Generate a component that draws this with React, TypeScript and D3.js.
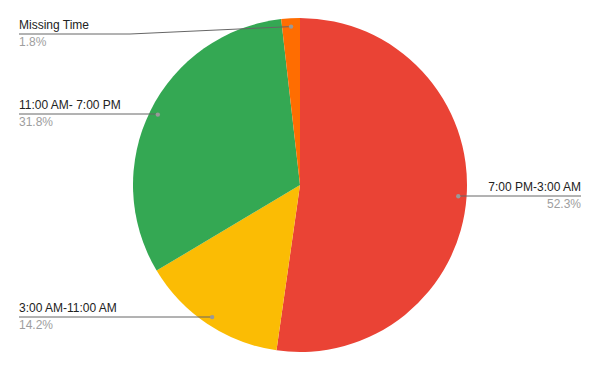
import React from "react";
import * as d3 from "d3";

const categories = ["7:00 PM-3:00 AM", "3:00 AM-11:00 AM", "11:00 AM- 7:00 PM", "Missing Time"];
const values = [52.3, 14.2, 31.8, 1.8];
const percentLabels = ["52.3%", "14.2%", "31.8%", "1.8%"];
const colors = ["#EA4335", "#FBBC04", "#34A853", "#FF6D01"];

const W = 600, H = 371;
const cx = 300, cy = 185, R = 167;
const dotR = R * 0.95;

// label layout: side, text x, line y
const labelLayout = [
  { side: "right", x: 581, y: 196 },
  { side: "left", x: 19, y: 317 },
  { side: "left", x: 19, y: 114 },
  { side: "left", x: 19, y: 34 },
];

export default function App() {
  const pie = d3.pie<number>().sort(null).value((d) => d).startAngle(0).endAngle(2 * Math.PI);
  const arcs = pie(values);
  const arc = d3.arc<d3.PieArcDatum<number>>().innerRadius(0).outerRadius(R);
  return (
    <svg width={W} height={H} style={{ position: "absolute", left: 0, top: 0 }} fontFamily="'Liberation Sans', Arial, sans-serif">
      <rect width={W} height={H} fill="#fff" />
      <g transform={`translate(${cx},${cy})`}>
        {arcs.map((a, i) => (
          <path key={i} d={arc(a) || ""} fill={colors[i]} />
        ))}
      </g>
      {arcs.map((a, i) => {
        const mid = (a.startAngle + a.endAngle) / 2;
        const dx = cx + dotR * Math.sin(mid);
        const dy = cy - dotR * Math.cos(mid);
        const L = labelLayout[i];
        let pts: [number, number][];
        if (L.side === "right") {
          pts = [[dx, dy], [L.x, L.y]];
          pts = [[dx, dy], [dx, L.y], [L.x, L.y]];
        } else {
          const textEnd = i === 3 ? 130 : dx;
          pts = [[L.x, L.y], [textEnd, L.y], [dx, dy]];
        }
        const line = d3.line()(pts) || "";
        const anchor = L.side === "right" ? "end" : "start";
        return (
          <g key={i}>
            <path d={line} fill="none" stroke="#666" strokeWidth={1} />
            <circle cx={dx} cy={dy} r={2.2} fill="#999" />
            <text x={L.x} y={L.y - 5} fontSize={12} fill="#222" textAnchor={anchor}>{categories[i]}</text>
            <text x={L.x} y={L.y + 12} fontSize={12} fill="#9e9e9e" textAnchor={anchor}>{percentLabels[i]}</text>
          </g>
        );
      })}
    </svg>
  );
}
